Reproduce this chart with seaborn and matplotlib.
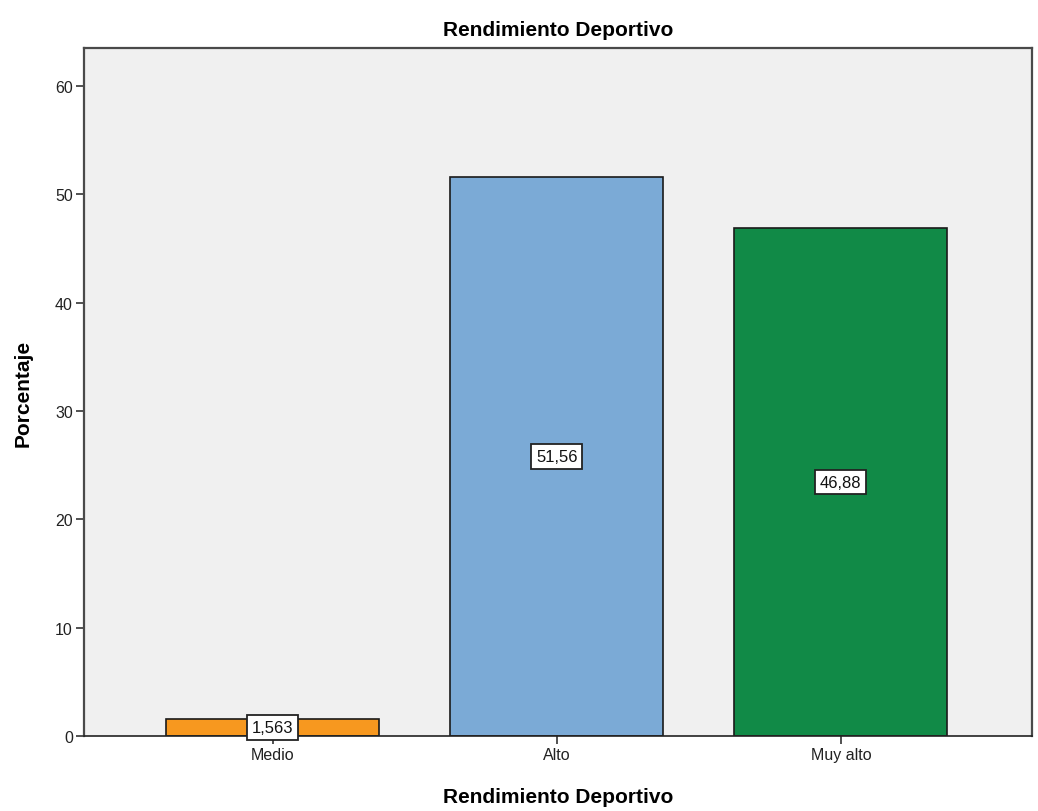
import matplotlib
matplotlib.use("Agg")
import matplotlib.pyplot as plt
import seaborn as sns
import pandas as pd

categories = ["Medio", "Alto", "Muy alto"]
percentages = [1.563, 51.56, 46.88]
value_labels = ["1,563", "51,56", "46,88"]
bar_colors = ["#F7981F", "#7BAAD6", "#118A47"]

sns.set_style("white")
plt.rcParams["font.family"] = ["Liberation Sans", "DejaVu Sans"]

df = pd.DataFrame({"cat": categories, "pct": percentages})

fig = plt.figure(figsize=(10.38, 8.12), dpi=100)
ax = fig.add_axes([0.0809, 0.0924, 0.9133, 0.8473])
ax.set_facecolor("#F0F0F0")

sns.barplot(data=df, x="cat", y="pct", hue="cat", palette=bar_colors,
            order=categories, hue_order=categories, width=0.75,
            edgecolor="#1a1a1a", linewidth=1.2, legend=False, ax=ax,
            saturation=1)

for patch, val, txt in zip(ax.patches, percentages, value_labels):
    cx = patch.get_x() + patch.get_width() / 2
    ax.text(cx, val / 2, txt, ha="center", va="center", fontsize=12,
            color="#111111",
            bbox=dict(boxstyle="square,pad=0.28", facecolor="white",
                      edgecolor="#222222", linewidth=1.3))

ax.set_xlim(-0.665, 2.673)
ax.set_ylim(0, 63.5)
ax.set_yticks([0, 10, 20, 30, 40, 50, 60])
ax.tick_params(axis="both", which="major", direction="out", length=6,
               width=1.2, color="#333333", labelsize=11.5, labelcolor="#222222",
               left=True, bottom=True, pad=2)

for side in ["left", "top", "right"]:
    ax.spines[side].set_color("#4a4a4a")
    ax.spines[side].set_linewidth(1.6)
ax.spines["bottom"].set_color("#222222")
ax.spines["bottom"].set_linewidth(1.2)

ax.set_title("Rendimiento Deportivo", fontsize=15, fontweight="bold",
             color="black", pad=9)
ax.set_xlabel("Rendimiento Deportivo", fontsize=15, fontweight="bold",
              color="black", labelpad=18)
ax.set_ylabel("Porcentaje", fontsize=15, fontweight="bold",
              color="black", labelpad=16)

fig.savefig("out.png", dpi=100)
